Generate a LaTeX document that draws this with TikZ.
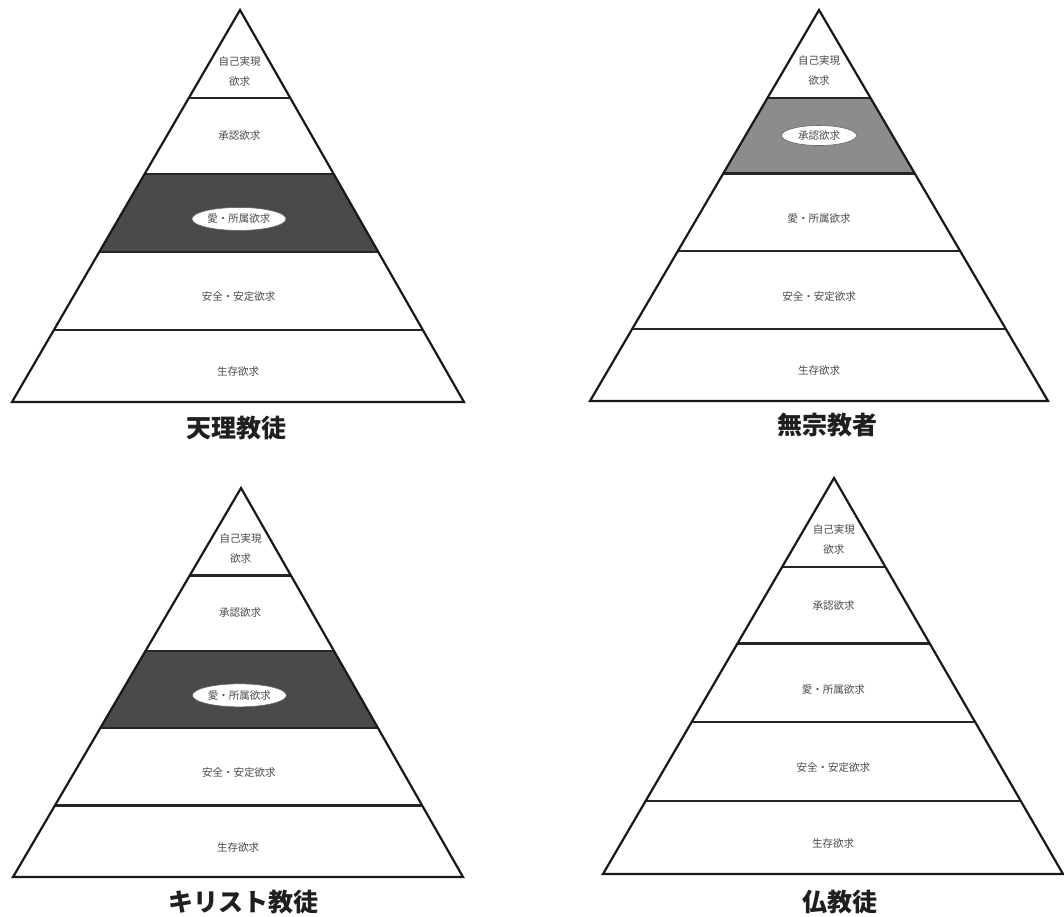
\documentclass[tikz,border=0pt]{standalone}
\usepackage{fontspec}
\usetikzlibrary{calc,shapes.geometric}
\newfontfamily\jp{Noto Sans CJK JP}
\definecolor{darkfill}{HTML}{4A4A4C}
\definecolor{midfill}{HTML}{8C8C8C}
\definecolor{labelgray}{HTML}{4A4A4A}
\tikzset{
  outline/.style={line width=2.2pt, line join=miter, draw=black!90},
  layerline/.style={line width=2.2pt, draw=black!85},
  lbl/.style={font=\jp\fontsize{10.5}{20}\selectfont, text=labelgray, inner sep=1pt, align=center},
  oval/.style={ellipse, fill=white, draw=black!60, line width=0.6pt, inner sep=0pt},
  title/.style={font=\jp\bfseries\fontsize{25}{30}\selectfont, text=black!88, inner sep=0pt}
}
\newcommand\mypyr[6]{%
  \coordinate (#1A) at (#2,#3);
  \coordinate (#1L) at (#4,#6);
  \coordinate (#1R) at (#5,#6);
  \coordinate (#1M) at ($(#1L)!0.5!(#1R)$);
  \foreach \i/\t in {1/0.225,2/0.418,3/0.617,4/0.816}{
    \coordinate (#1l\i) at ($(#1A)!\t!(#1L)$);
    \coordinate (#1r\i) at ($(#1A)!\t!(#1R)$);
  }
  \coordinate (#1c1) at ($(#1A)!0.156!(#1M)$);
  \coordinate (#1c2) at ($(#1A)!0.321!(#1M)$);
  \coordinate (#1c3) at ($(#1A)!0.533!(#1M)$);
  \coordinate (#1c4) at ($(#1A)!0.732!(#1M)$);
  \coordinate (#1c5) at ($(#1A)!0.923!(#1M)$);
}
\newcommand\mypyrdraw[1]{%
  \foreach \i in {1,2,3,4}{\draw[layerline] (#1l\i) -- (#1r\i);}
  \draw[outline] (#1A) -- (#1L) -- (#1R) -- cycle;
}
\begin{document}
\begin{tikzpicture}[x=1pt,y=-1pt]
\useasboundingbox (0,0) rectangle (1064,916);
\fill[white] (0,0) rectangle (1064,916);

% ---------- Pyramid 1: 天理教徒 ----------
\mypyr{a}{240}{10}{12}{464}{402}
\fill[darkfill] (al2) -- (ar2) -- (ar3) -- (al3) -- cycle;
\mypyrdraw{a}
\node[lbl] (a1) at (ac1) {自己実現\\欲求};
\node[lbl] (a2) at (ac2) {承認欲求};
\node[lbl, oval, minimum width=94pt, minimum height=23pt] (a3) at (ac3) {愛・所属欲求};
\node[lbl] (a4) at (ac4) {安全・安定欲求};
\node[lbl] (a5) at (ac5) {生存欲求};
\node[title] (at) at (236,428) {天理教徒};

% ---------- Pyramid 2: 無宗教者 ----------
\mypyr{b}{819}{10}{590}{1048}{401}
\fill[midfill] (bl1) -- (br1) -- (br2) -- (bl2) -- cycle;
\mypyrdraw{b}
\node[lbl] (b1) at (bc1) {自己実現\\欲求};
\node[lbl, oval, minimum width=75pt, minimum height=20pt] (b2) at (bc2) {承認欲求};
\node[lbl] (b3) at (bc3) {愛・所属欲求};
\node[lbl] (b4) at (bc4) {安全・安定欲求};
\node[lbl] (b5) at (bc5) {生存欲求};
\node[title] (bt) at (827,425) {無宗教者};

% ---------- Pyramid 3: キリスト教徒 ----------
\mypyr{c}{241}{488}{13}{463}{877}
\fill[darkfill] (cl2) -- (cr2) -- (cr3) -- (cl3) -- cycle;
\mypyrdraw{c}
\node[lbl] (c1) at (cc1) {自己実現\\欲求};
\node[lbl] (c2) at (cc2) {承認欲求};
\node[lbl, oval, minimum width=94pt, minimum height=23pt] (c3) at (cc3) {愛・所属欲求};
\node[lbl] (c4) at (cc4) {安全・安定欲求};
\node[lbl] (c5) at (cc5) {生存欲求};
\node[title] (ct) at (243,902) {キリスト教徒};

% ---------- Pyramid 4: 仏教徒 ----------
\mypyr{d}{834}{478}{603}{1063}{874}
\mypyrdraw{d}
\node[lbl] (d1) at (dc1) {自己実現\\欲求};
\node[lbl] (d2) at (dc2) {承認欲求};
\node[lbl] (d3) at (dc3) {愛・所属欲求};
\node[lbl] (d4) at (dc4) {安全・安定欲求};
\node[lbl] (d5) at (dc5) {生存欲求};
\node[title] (dt) at (840,902) {仏教徒};
\end{tikzpicture}
\end{document}
